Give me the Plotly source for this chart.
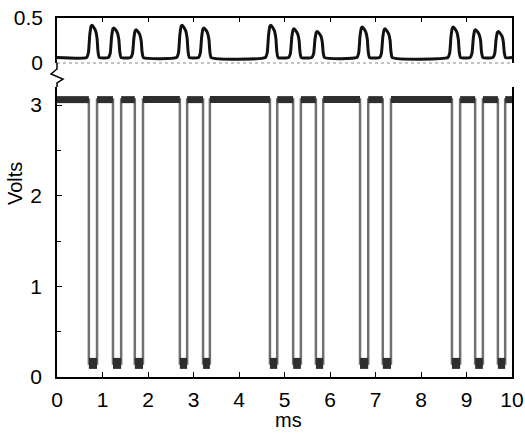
import plotly.graph_objects as go

# ---------------- data ----------------
# lower trace: digital signal, high level with short low pulses (ms)
low_start = [0.70, 1.23, 1.71, 2.70, 3.21, 4.68, 5.19, 5.69, 6.66, 7.16, 8.68, 9.19, 9.69]
low_end   = [0.88, 1.41, 1.89, 2.86, 3.36, 4.84, 5.36, 5.85, 6.84, 7.34, 8.86, 9.36, 9.85]
high_level = 3.06
low_level = 0.15
t_start, t_end = 0.0, 10.0

# upper trace: pulse peak times (ms) and peak voltages (V)
peak_times   = [0.79, 1.27, 1.76, 2.77, 3.25, 4.72, 5.23, 5.74, 6.73, 7.23, 8.73, 9.22, 9.72]
peak_heights = [0.42, 0.39, 0.37, 0.42, 0.39, 0.42, 0.38, 0.35, 0.40, 0.38, 0.40, 0.37, 0.35]
baseline = 0.06

# pulse outline (offset from peak in ms, fraction of pulse amplitude)
pulse_offsets = [-0.14, -0.10, -0.07, -0.04, -0.02, 0.02, 0.06, 0.09, 0.11, 0.14]
pulse_fracs   = [0.0, 0.15, 0.70, 0.97, 1.0, 0.93, 0.82, 0.60, 0.20, 0.0]

x_ticks = [0, 1, 2, 3, 4, 5, 6, 7, 8, 9, 10]
y_ticks_low = [0, 1, 2, 3]
y_ticks_top = [0, 0.5]

# ---------------- build traces ----------------
sx, sy = [t_start], [high_level]
for s, e in zip(low_start, low_end):
    sx += [s, s, e, e]
    sy += [high_level, low_level, low_level, high_level]
sx.append(t_end)
sy.append(high_level)

hx, hy = [], []
edges = [t_start] + [v for pair in zip(low_start, low_end) for v in pair] + [t_end]
for i in range(0, len(edges), 2):
    hx += [edges[i], edges[i + 1], None]
    hy += [high_level, high_level, None]
lx, ly = [], []
for s, e in zip(low_start, low_end):
    lx += [s, e, None]
    ly += [low_level, low_level, None]

px, py = [t_start], [baseline]
for tp, hp in zip(peak_times, peak_heights):
    for o, f in zip(pulse_offsets, pulse_fracs):
        px.append(tp + o)
        py.append(baseline + f * (hp - baseline))
px.append(t_end)
py.append(baseline)

FONT = "Liberation Sans, Arial, Helvetica, sans-serif"
fig = go.Figure()
fig.add_trace(go.Scatter(x=sx, y=sy, mode="lines", xaxis="x", yaxis="y",
                         line=dict(color="#707070", width=2.5), hoverinfo="skip"))
fig.add_trace(go.Scatter(x=hx, y=hy, mode="lines", xaxis="x", yaxis="y",
                         line=dict(color="#2e2e2e", width=7), hoverinfo="skip"))
fig.add_trace(go.Scatter(x=lx, y=ly, mode="lines", xaxis="x", yaxis="y",
                         line=dict(color="#2e2e2e", width=11), hoverinfo="skip"))
fig.add_trace(go.Scatter(x=px, y=py, mode="lines", xaxis="x2", yaxis="y2",
                         line=dict(color="#111111", width=3, shape="spline", smoothing=0.5),
                         hoverinfo="skip"))

axis_common = dict(showgrid=False, zeroline=False, showline=True, linecolor="black",
                   linewidth=1.5, tickcolor="black", tickwidth=1.3, automargin=False,
                   tickfont=dict(family=FONT, size=21, color="black"))

fig.update_layout(
    width=525, height=433,
    margin=dict(l=57, r=13, t=18, b=56, autoexpand=False),
    paper_bgcolor="white", plot_bgcolor="white",
    showlegend=False,
    xaxis=dict(domain=[0, 1], range=[0, 10], anchor="y", tickvals=x_ticks,
               ticks="inside", ticklen=5, ticklabelstandoff=3, **axis_common),
    yaxis=dict(domain=[0, 0.808], range=[0, 3.2], anchor="x", tickvals=y_ticks_low,
               ticks="inside", ticklen=5, mirror=True, ticklabelstandoff=9,
               minor=dict(dtick=0.5, ticks="inside", ticklen=4, tickcolor="black"),
               **axis_common),
    xaxis2=dict(domain=[0, 1], range=[0, 10], anchor="y2", matches="x", side="top",
                tickvals=x_ticks, showticklabels=False, ticks="inside", ticklen=4,
                **axis_common),
    yaxis2=dict(domain=[0.8747, 1], range=[0, 0.5], anchor="x2", tickvals=y_ticks_top,
                ticktext=["0", "0.5"], ticks="", mirror=True, ticklabelstandoff=8,
                **axis_common),
    shapes=[
        dict(type="line", xref="paper", yref="paper", x0=0, x1=1, y0=0.8747, y1=0.8747,
             line=dict(color="#8a8a8a", width=1.2, dash="dot")),
        dict(type="path", xref="paper", yref="paper",
             path="M 0 0.875 L 0 0.858 L -0.0132 0.844 L 0.0132 0.830 L 0 0.819 L 0 0.808",
             line=dict(color="black", width=1.5)),
    ],
    annotations=[
        dict(text="Volts", xref="paper", yref="paper", x=-0.092, y=0.538,
             xanchor="center", yanchor="middle", textangle=-90, showarrow=False,
             font=dict(family=FONT, size=20, color="black")),
        dict(text="ms", xref="paper", yref="paper", x=0.508, y=-0.12,
             xanchor="center", yanchor="middle", showarrow=False,
             font=dict(family=FONT, size=20, color="black")),
    ],
)

fig.write_html("out.html")
